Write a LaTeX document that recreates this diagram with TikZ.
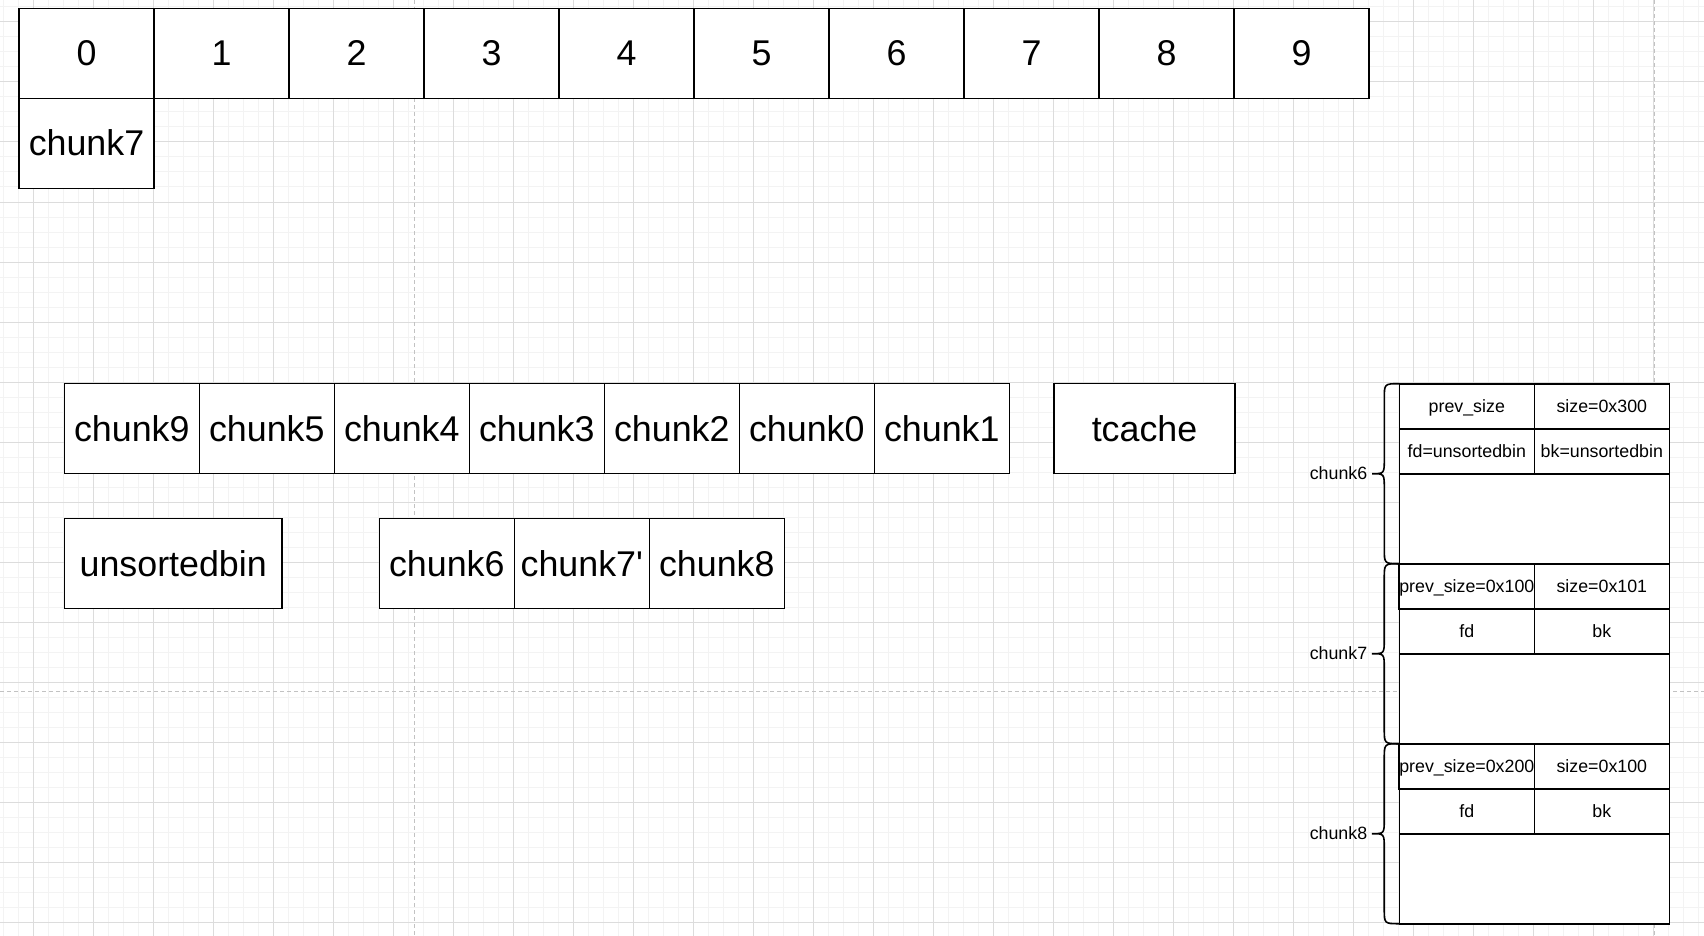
\documentclass[tikz,border=0pt]{standalone}
\usepackage{fontspec}
\setmainfont{Liberation Sans}
\usetikzlibrary{positioning}
\definecolor{gridminor}{HTML}{F3F3F3}
\definecolor{gridmajor}{HTML}{DCDCDC}
\definecolor{pagebreak}{HTML}{C2C2C2}

\begin{document}
\begin{tikzpicture}[x=1pt, y=-1pt,
    cell/.style={rectangle, draw=black, fill=white, line width=1.6pt, inner sep=0pt, outer sep=0pt,
                 minimum width=135pt, minimum height=90pt, font=\fontsize{35.8}{43}\selectfont,
                 text height=32.2pt, text depth=7.2pt},
    field/.style={cell, minimum height=45pt, font=\fontsize{17.8}{21}\selectfont,
                  text height=16pt, text depth=3.5pt},
    note/.style={inner sep=0pt, font=\fontsize{17.8}{21}\selectfont, text height=16pt, text depth=3.5pt},
    brace/.style={draw=black, line width=1.6pt},
    minor/.style={gridminor, line width=1pt},
    major/.style={gridmajor, line width=1pt},
    pgbreak/.style={pagebreak, line width=1pt, dash pattern=on 4pt off 3pt}
]
    \useasboundingbox (0,0) rectangle (1704,936);
    \fill[white] (0,0) rectangle (1704,936);
    % background grid
    \foreach \x in {3,18,...,1698} \draw[minor] (\x,0) -- (\x,936);
    \foreach \y in {7,22,...,922} \draw[minor] (0,\y) -- (1704,\y);
    \foreach \x in {33,93,...,1653} \draw[major] (\x,0) -- (\x,936);
    \foreach \y in {22,82,...,922} \draw[major] (0,\y) -- (1704,\y);
    \draw[pgbreak] (414,0) -- (414,936);
    \draw[pgbreak] (1654,0) -- (1654,936);
    \draw[pgbreak] (0,691) -- (1704,691);

    % index row
    \foreach \i in {0,...,9}
        \node[cell] (idx\i) at (86.5+135*\i, 53.5) {\i};
    \node[cell, below=0pt of idx0] (slot0) {chunk7};

    % tcache list
    \foreach \name [count=\i from 0] in {chunk9,chunk5,chunk4,chunk3,chunk2,chunk0,chunk1}
        \node[cell] (tc\i) at (131.8+135*\i, 428.5) {\name};
    \node[cell, minimum width=180.5pt] (tcache) at (1144.5, 428.5) {tcache};

    % unsortedbin list
    \node[cell, minimum width=217.7pt] (unsorted) at (173.2, 563.6) {unsortedbin};
    \node[cell] (ub0) at (446.8, 563.6) {chunk6};
    \node[cell, right=0pt of ub0] (ub1) {chunk7\textquotesingle};
    \node[cell, right=0pt of ub1] (ub2) {chunk8};

    % heap layout
    \foreach \k/\nm/\pv/\sz/\fd/\bk in {0/6/prev\_size/size=0x300/fd=unsortedbin/bk=unsortedbin,
                                       1/7/prev\_size=0x100/size=0x101/fd/bk,
                                       2/8/prev\_size=0x200/size=0x100/fd/bk} {
        \node[field] (prev\k) at (1466.8, 406.2+180*\k) {\pv};
        \node[field, right=0pt of prev\k] (size\k) {\sz};
        \node[field, below=0pt of prev\k] (fd\k) {\fd};
        \node[field, right=0pt of fd\k] (bk\k) {\bk};
        \node[cell, minimum width=270pt, anchor=north west] (body\k) at (fd\k.south west) {};
        \draw[brace] (prev\k.north west)
            .. controls +(-15,0) .. ++(-15,15)
            -- ++(0,60)
            .. controls +(0,15) .. ++(-12.3,15)
               node[note, anchor=east, xshift=-4pt] (lbl\k) {chunk\nm}
            .. controls +(12.3,0) .. ++(12.3,15)
            -- ++(0,60)
            .. controls +(0,15) .. ++(15,15);
    }
\end{tikzpicture}
\end{document}
